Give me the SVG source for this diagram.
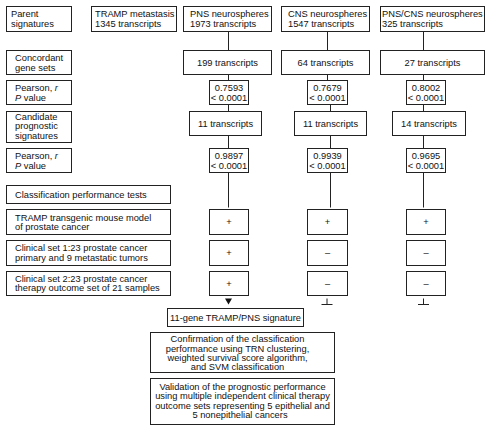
<svg xmlns="http://www.w3.org/2000/svg" width="491" height="429" viewBox="0 0 491 429">
<style>
rect{fill:#fff;stroke:#222;stroke-width:1}
text{font-family:"Liberation Sans",Arial,sans-serif;font-size:9.3px;fill:#111}
.c{text-anchor:middle}
.i{font-style:italic}
.ln{stroke:#222;stroke-width:1;fill:none}
</style>
<rect x="0" y="0" width="491" height="429" style="fill:#fff;stroke:none"/>
<g id="connectors">
<path class="ln" d="M228.5 31.5V50.5M228.5 74.5V80.5M228.5 104.5V111.5M228.5 135.5V148.5M228.5 172.5V207.5"/>
<path class="ln" d="M327.5 31.5V50.5M327.5 74.5V80.5M330.5 104.5V111.5M330.5 135.5V148.5M330.5 172.5V207.5"/>
<path class="ln" d="M423.5 31.5V50.5M423.5 74.5V80.5M423.5 104.5V111.5M423.5 135.5V148.5M423.5 172.5V207.5"/>
<polygon points="225,298.5 232,298.5 228.5,304.5" fill="#111"/>
<path class="ln" d="M327 298.5V304.5M321.5 304.5H332.5"/>
<path class="ln" d="M423.5 298.5V304.5M418 304.5H429"/>
</g>
<g id="label-parent"><rect x="6.5" y="6.5" width="65" height="25"/><text x="11" y="17">Parent</text><text x="11" y="27">signatures</text></g>
<g id="label-concordant"><rect x="6.5" y="50.5" width="65" height="24"/><text x="15" y="61.3">Concordant</text><text x="15" y="71">gene sets</text></g>
<g id="label-pearson1"><rect x="6.5" y="80.5" width="65" height="24"/><text x="15" y="91.3">Pearson, <tspan class="i">r</tspan></text><text x="15" y="101"><tspan class="i">P</tspan> value</text></g>
<g id="label-candidate"><rect x="6.5" y="111.5" width="65" height="31"/><text x="15" y="119.5">Candidate</text><text x="15" y="129">prognostic</text><text x="15" y="138.5">signatures</text></g>
<g id="label-pearson2"><rect x="6.5" y="148.5" width="65" height="24"/><text x="15" y="159.3">Pearson, <tspan class="i">r</tspan></text><text x="15" y="169"><tspan class="i">P</tspan> value</text></g>
<g id="label-classification"><rect x="6.5" y="185.5" width="164" height="18"/><text x="15" y="197.8">Classification performance tests</text></g>
<g id="label-tramp"><rect x="6.5" y="209.5" width="164" height="25"/><text x="15" y="220.5">TRAMP transgenic mouse model</text><text x="15" y="230">of prostate cancer</text></g>
<g id="label-clin1"><rect x="6.5" y="240.5" width="164" height="25"/><text x="15" y="251.3">Clinical set 1:23 prostate cancer</text><text x="15" y="261">primary and 9 metastatic tumors</text></g>
<g id="label-clin2"><rect x="6.5" y="271.5" width="164" height="24"/><text x="15" y="281.8">Clinical set 2:23 prostate cancer</text><text x="15" y="291.3">therapy outcome set of 21 samples</text></g>
<g id="tramp-meta"><rect x="91.5" y="6.5" width="85" height="25"/><text x="95" y="17">TRAMP metastasis</text><text x="95" y="27">1345 transcripts</text></g>
<g id="pns"><rect x="183.5" y="6.5" width="88" height="25"/><text x="190" y="17">PNS neurospheres</text><text x="190" y="27">1973 transcripts</text></g>
<g id="cns"><rect x="281.5" y="6.5" width="88" height="25"/><text x="288" y="17">CNS neurospheres</text><text x="288" y="27">1547 transcripts</text></g>
<g id="pnscns"><rect x="380.5" y="6.5" width="104" height="25"/><text x="382" y="17">PNS/CNS neurospheres</text><text x="382" y="27">325 transcripts</text></g>
<g id="conc-pns"><rect x="183.5" y="50.5" width="88" height="24"/><text class="c" x="227.5" y="65.8">199 transcripts</text></g>
<g id="conc-cns"><rect x="281.5" y="50.5" width="88" height="24"/><text class="c" x="325.5" y="65.8">64 transcripts</text></g>
<g id="conc-pnscns"><rect x="380.5" y="50.5" width="104" height="24"/><text class="c" x="432.5" y="65.8">27 transcripts</text></g>
<g id="r1-pns"><rect x="209.5" y="80.5" width="39" height="24"/><text class="c" x="229" y="91">0.7593</text><text class="c" x="229" y="100.6">&lt; 0.0001</text></g>
<g id="r1-cns"><rect x="307.5" y="80.5" width="40" height="24"/><text class="c" x="327.5" y="91">0.7679</text><text class="c" x="327.5" y="100.6">&lt; 0.0001</text></g>
<g id="r1-pnscns"><rect x="406.5" y="80.5" width="39" height="24"/><text class="c" x="426" y="91">0.8002</text><text class="c" x="426" y="100.6">&lt; 0.0001</text></g>
<g id="cand-pns"><rect x="189.5" y="111.5" width="72" height="24"/><text class="c" x="225.5" y="126.8">11 transcripts</text></g>
<g id="cand-cns"><rect x="294.5" y="111.5" width="72" height="24"/><text class="c" x="330.5" y="126.8">11 transcripts</text></g>
<g id="cand-pnscns"><rect x="392.5" y="111.5" width="73" height="24"/><text class="c" x="429" y="126.8">14 transcripts</text></g>
<g id="r2-pns"><rect x="209.5" y="148.5" width="39" height="24"/><text class="c" x="229" y="159">0.9897</text><text class="c" x="229" y="168.6">&lt; 0.0001</text></g>
<g id="r2-cns"><rect x="307.5" y="148.5" width="40" height="24"/><text class="c" x="327.5" y="159">0.9939</text><text class="c" x="327.5" y="168.6">&lt; 0.0001</text></g>
<g id="r2-pnscns"><rect x="406.5" y="148.5" width="39" height="24"/><text class="c" x="426" y="159">0.9695</text><text class="c" x="426" y="168.6">&lt; 0.0001</text></g>
<g id="t1-pns"><rect x="209.5" y="209.5" width="39" height="25"/><text class="c" x="229" y="225">+</text></g>
<g id="t1-cns"><rect x="307.5" y="209.5" width="40" height="25"/><text class="c" x="327.5" y="225">+</text></g>
<g id="t1-pnscns"><rect x="406.5" y="209.5" width="39" height="25"/><text class="c" x="426" y="225">+</text></g>
<g id="t2-pns"><rect x="209.5" y="240.5" width="39" height="25"/><text class="c" x="229" y="256">+</text></g>
<g id="t2-cns"><rect x="307.5" y="240.5" width="40" height="25"/><text class="c" x="327.5" y="256">–</text></g>
<g id="t2-pnscns"><rect x="406.5" y="240.5" width="39" height="25"/><text class="c" x="426" y="256">–</text></g>
<g id="t3-pns"><rect x="209.5" y="271.5" width="39" height="24"/><text class="c" x="229" y="286.5">+</text></g>
<g id="t3-cns"><rect x="307.5" y="271.5" width="40" height="24"/><text class="c" x="327.5" y="286.5">–</text></g>
<g id="t3-pnscns"><rect x="406.5" y="271.5" width="39" height="24"/><text class="c" x="426" y="286.5">–</text></g>
<g id="signature"><rect x="167.5" y="308.5" width="136" height="18"/><text class="c" x="235.5" y="320.8">11-gene TRAMP/PNS signature</text></g>
<g id="confirmation"><rect x="150.5" y="332.5" width="184" height="40"/><text class="c" x="237.5" y="342.4">Confirmation of the classification</text><text class="c" x="237.5" y="351.6">performance using TRN clustering,</text><text class="c" x="237.5" y="360.8">weighted survival score algorithm,</text><text class="c" x="237.5" y="370">and SVM classification</text></g>
<g id="validation"><rect x="150.5" y="378.5" width="184" height="46"/><text class="c" x="242.5" y="390">Validation of the prognostic performance</text><text class="c" x="242.5" y="399.3">using multiple independent clinical therapy</text><text class="c" x="242.5" y="408.6">outcome sets representing 5 epithelial and</text><text class="c" x="240" y="417.9">5 nonepithelial cancers</text></g>
</svg>
